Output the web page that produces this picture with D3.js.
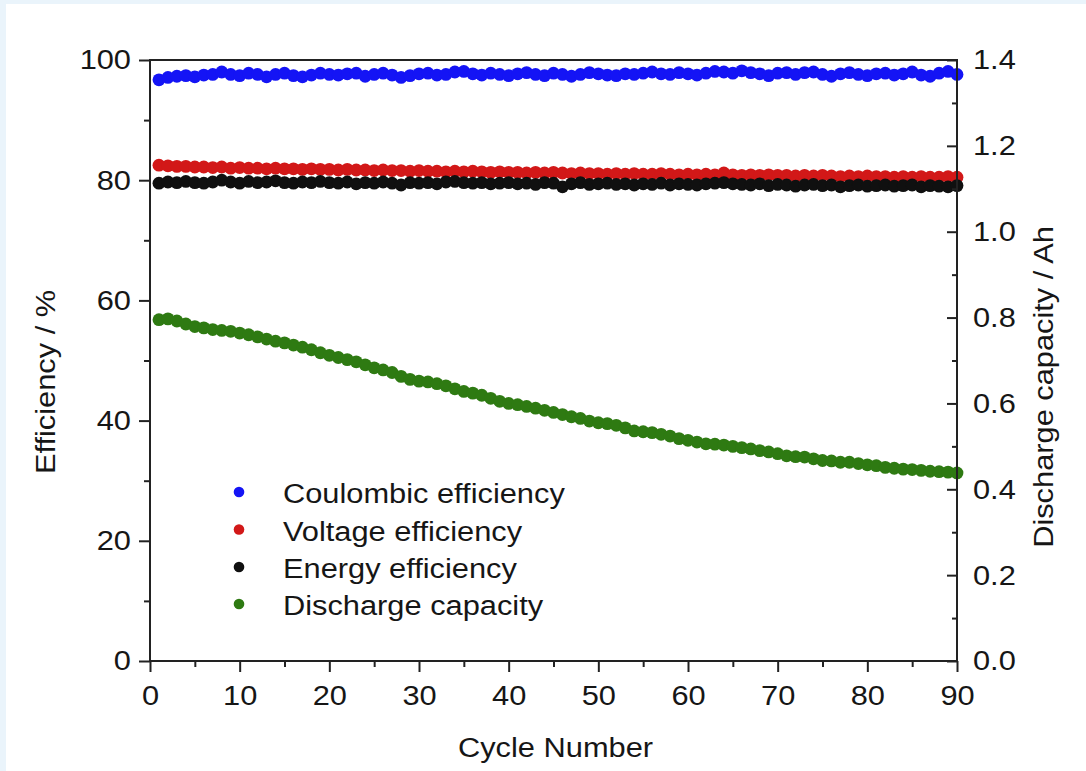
<!DOCTYPE html>
<html>
<head>
<meta charset="utf-8">
<script src="https://cdn.jsdelivr.net/npm/d3@7"></script>
<style>
  html, body { margin: 0; padding: 0; background: #eaf4fb; }
  svg { display: block; }
  text { font-family: "Liberation Sans", Arial, Helvetica, sans-serif; fill: #161616; }
</style>
</head>
<body>
<svg id="chart" width="1086" height="771"></svg>
<script>
// ---------------- data ----------------
const cycles = d3.range(1, 91);

const coulombicEff = [
  96.7, 97.1, 97.3, 97.4, 97.2, 97.5, 97.6, 98.0, 97.6, 97.4,
  97.8, 97.6, 97.2, 97.6, 97.8, 97.4, 97.2, 97.5, 97.8, 97.6,
  97.5, 97.7, 97.8, 97.3, 97.6, 97.8, 97.5, 97.1, 97.4, 97.7,
  97.8, 97.5, 97.6, 98.0, 98.1, 97.7, 97.5, 97.8, 97.6, 97.4,
  97.7, 97.9, 97.6, 97.4, 97.8, 97.6, 97.3, 97.6, 97.9, 97.7,
  97.5, 97.4, 97.7, 97.6, 97.8, 98.0, 97.7, 97.6, 97.9, 97.7,
  97.5, 97.8, 98.1, 98.0, 97.8, 98.2, 97.9, 97.7, 97.4, 97.8,
  97.9, 97.6, 97.9, 98.0, 97.6, 97.3, 97.7, 97.9, 97.6, 97.4,
  97.7, 97.8, 97.5, 97.7, 98.0, 97.5, 97.3, 97.8, 98.1, 97.6
];

const voltageEff = [
  82.5, 82.4, 82.3, 82.3, 82.2, 82.2, 82.1, 82.2, 82.0, 82.1,
  82.0, 82.0, 81.9, 82.0, 81.9, 81.9, 81.8, 81.9, 81.8, 81.8,
  81.7, 81.8, 81.7, 81.7, 81.6, 81.7, 81.6, 81.6, 81.5, 81.6,
  81.5, 81.5, 81.4, 81.5, 81.4, 81.5, 81.4, 81.3, 81.4, 81.3,
  81.3, 81.2, 81.3, 81.2, 81.3, 81.2, 81.1, 81.2, 81.1, 81.1,
  81.0, 81.1, 81.0, 81.1, 81.0, 81.0, 81.1, 81.0, 80.9, 81.0,
  80.9, 81.0, 80.9, 81.2, 80.9, 80.8, 80.9, 80.8, 80.9, 80.8,
  80.8, 80.7, 80.8, 80.7, 80.8, 80.7, 80.6, 80.7, 80.6, 80.7,
  80.6, 80.6, 80.5, 80.6, 80.5, 80.6, 80.5, 80.5, 80.6, 80.5
];

const energyEff = [
  79.5, 79.7, 79.6, 79.8, 79.6, 79.5, 79.7, 80.0, 79.7, 79.5,
  79.8, 79.6, 79.7, 79.9, 79.6, 79.5, 79.7, 79.6, 79.8, 79.6,
  79.5, 79.7, 79.4, 79.6, 79.5, 79.7, 79.5, 79.2, 79.6, 79.5,
  79.6, 79.4, 79.7, 79.8, 79.6, 79.5, 79.6, 79.4, 79.5, 79.6,
  79.4, 79.5, 79.3, 79.6, 79.5, 78.9, 79.4, 79.6, 79.3, 79.4,
  79.5, 79.3, 79.4, 79.2, 79.4, 79.3, 79.5, 79.2, 79.4, 79.3,
  79.2, 79.4, 79.5, 79.6, 79.4, 79.3, 79.2, 79.4, 79.1, 79.3,
  79.2, 79.0, 79.2, 79.3, 79.1, 79.2, 78.9, 79.1, 79.2, 79.0,
  79.1, 79.2, 79.0, 79.1, 79.2, 78.9, 79.1, 79.0, 78.9, 79.1
];

const dischargeCapacity = [
  0.795, 0.797, 0.792, 0.785, 0.779, 0.776, 0.772, 0.770, 0.768, 0.764,
  0.760, 0.755, 0.750, 0.745, 0.741, 0.736, 0.731, 0.725, 0.718, 0.712,
  0.707, 0.702, 0.697, 0.690, 0.683, 0.678, 0.672, 0.663, 0.656, 0.652,
  0.650, 0.646, 0.641, 0.634, 0.628, 0.624, 0.619, 0.612, 0.605, 0.600,
  0.597, 0.593, 0.589, 0.584, 0.579, 0.574, 0.569, 0.565, 0.559, 0.555,
  0.553, 0.549, 0.543, 0.536, 0.534, 0.532, 0.528, 0.524, 0.518, 0.514,
  0.510, 0.506, 0.505, 0.503, 0.500, 0.497, 0.494, 0.490, 0.487, 0.483,
  0.478, 0.476, 0.475, 0.471, 0.467, 0.466, 0.463, 0.463, 0.460, 0.457,
  0.455, 0.451, 0.449, 0.447, 0.446, 0.444, 0.442, 0.441, 0.440, 0.438
];

const xTicks = [0, 10, 20, 30, 40, 50, 60, 70, 80, 90];
const xMinorTicks = [5, 15, 25, 35, 45, 55, 65, 75, 85];
const yLeftTicks = [0, 20, 40, 60, 80, 100];
const yLeftMinorTicks = [10, 30, 50, 70, 90];
const yRightTicks = [0, 0.2, 0.4, 0.6, 0.8, 1.0, 1.2, 1.4];
const yRightMinorTicks = [0.1, 0.3, 0.5, 0.7, 0.9, 1.1, 1.3];

const seriesNames = ["Coulombic efficiency", "Voltage efficiency", "Energy efficiency", "Discharge capacity"];
const seriesColors = ["#1414f5", "#d21818", "#101010", "#2e7a12"];

// ---------------- layout ----------------
const svg = d3.select("#chart");
const L = 150, R = 957, T = 60, B = 661;
const SX = 1.1;           // horizontal text stretch
const FS = 28;

svg.append("rect").attr("x", 6).attr("y", 4).attr("width", 1080).attr("height", 767).attr("fill", "#ffffff");

const x = d3.scaleLinear().domain([0, 90]).range([L, R]);
const yL = d3.scaleLinear().domain([0, 100]).range([B, T]);
const yR = d3.scaleLinear().domain([0, 1.4]).range([B, T]);

// ---------------- points ----------------
const r = 6.4;
const plot = svg.append("g");
const effSeries = [coulombicEff, voltageEff, energyEff];
effSeries.forEach((vals, i) => {
  plot.append("g").selectAll("circle").data(vals).join("circle")
    .attr("cx", (d, j) => x(cycles[j]))
    .attr("cy", d => yL(d))
    .attr("r", r)
    .attr("fill", seriesColors[i]);
});
plot.append("g").selectAll("circle").data(dischargeCapacity).join("circle")
  .attr("cx", (d, j) => x(cycles[j]))
  .attr("cy", d => yR(d))
  .attr("r", r)
  .attr("fill", seriesColors[3]);

// ---------------- axes ----------------
function styleAxis(g) {
  g.select(".domain").remove();
  g.selectAll("line").attr("stroke", "#222").attr("stroke-width", 2);
  g.selectAll("text").style("font-size", FS + "px").attr("fill", "#161616");
}

// bottom
const gB = svg.append("g").attr("transform", `translate(0,${B})`)
  .call(d3.axisBottom(x).tickValues(xTicks).tickSize(11).tickPadding(13).tickFormat(d3.format("d")));
styleAxis(gB);
gB.selectAll("text").attr("transform", `scale(${SX},1)`);
const gBm = svg.append("g").attr("transform", `translate(0,${B})`)
  .call(d3.axisBottom(x).tickValues(xMinorTicks).tickSize(6).tickFormat(""));
styleAxis(gBm);

// left
const gLft = svg.append("g").attr("transform", `translate(${L},0)`)
  .call(d3.axisLeft(yL).tickValues(yLeftTicks).tickSize(11).tickFormat(d3.format("d")));
styleAxis(gLft);
gLft.selectAll("text").attr("x", -19 / SX).attr("transform", `scale(${SX},1)`);
const gLm = svg.append("g").attr("transform", `translate(${L},0)`)
  .call(d3.axisLeft(yL).tickValues(yLeftMinorTicks).tickSize(6).tickFormat(""));
styleAxis(gLm);

// right (ticks inward)
const gRt = svg.append("g").attr("transform", `translate(${R},0)`)
  .call(d3.axisRight(yR).tickValues(yRightTicks).tickSizeInner(-10).tickSizeOuter(0).tickFormat(d3.format(".1f")));
styleAxis(gRt);
gRt.selectAll("text").attr("x", 16 / SX).attr("text-anchor", "start").attr("transform", `scale(${SX},1)`);
const gRm = svg.append("g").attr("transform", `translate(${R},0)`)
  .call(d3.axisRight(yR).tickValues(yRightMinorTicks).tickSizeInner(-5).tickSizeOuter(0).tickFormat(""));
styleAxis(gRm);

// frame
svg.append("rect").attr("x", L).attr("y", T).attr("width", R - L).attr("height", B - T)
  .attr("fill", "none").attr("stroke", "#222").attr("stroke-width", 2);

// ---------------- titles ----------------
svg.append("text").attr("transform", `translate(${(L + R) / 2 + 2},757) scale(${SX},1)`)
  .attr("text-anchor", "middle").style("font-size", FS + "px").text("Cycle Number");
svg.append("text").attr("transform", `translate(55,382) rotate(-90) scale(${SX},1)`)
  .attr("text-anchor", "middle").style("font-size", FS + "px").text("Efficiency / %");
svg.append("text").attr("transform", `translate(1053,387) rotate(-90) scale(${SX},1)`)
  .attr("text-anchor", "middle").style("font-size", FS + "px").text("Discharge capacity / Ah");

// ---------------- legend ----------------
const legendY = [503, 540.5, 578, 615];
const lg = svg.append("g");
seriesNames.forEach((name, i) => {
  lg.append("circle").attr("cx", 239).attr("cy", legendY[i] - 11).attr("r", 5.3).attr("fill", seriesColors[i]);
  lg.append("text").attr("transform", `translate(283,${legendY[i]}) scale(${SX},1)`)
    .style("font-size", FS + "px").text(name);
});
</script>
</body>
</html>
